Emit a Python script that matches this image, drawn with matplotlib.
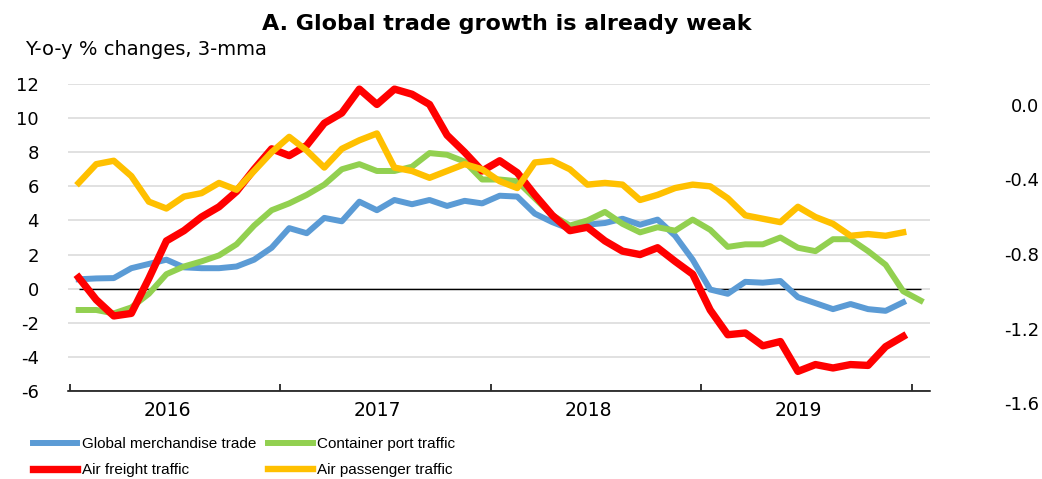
import numpy as np
import matplotlib
matplotlib.use("Agg")
import matplotlib.pyplot as plt
from matplotlib import font_manager
from matplotlib.transforms import ScaledTranslation

# monthly series, Jan 2016 onwards (y-o-y % changes, 3-mma)
years = ["2016", "2017", "2018", "2019"]
merch = [0.55, 0.6, 0.62, 1.2, 1.45, 1.7, 1.25, 1.2, 1.2, 1.3, 1.7, 2.4,
         3.55, 3.25, 4.15, 3.95, 5.1, 4.6, 5.2, 4.95, 5.2, 4.85, 5.15, 5.0,
         5.45, 5.4, 4.4, 3.9, 3.5, 3.75, 3.85, 4.1, 3.75, 4.05, 3.1, 1.7,
         -0.05, -0.3, 0.4, 0.35, 0.45, -0.5, -0.85, -1.2, -0.9, -1.2, -1.3, -0.8]
container = [-1.25, -1.25, -1.45, -1.1, -0.3, 0.85, 1.3, 1.6, 1.95, 2.6, 3.7, 4.6,
             5.0, 5.5, 6.1, 7.0, 7.3, 6.9, 6.9, 7.15, 7.95, 7.85, 7.45, 6.4,
             6.4, 6.3, 5.3, 4.3, 3.7, 4.0, 4.5, 3.8, 3.3, 3.6, 3.4, 4.05,
             3.45, 2.45, 2.6, 2.6, 3.0, 2.4, 2.2, 2.9, 2.9, 2.2, 1.4, -0.15,
             -0.7]
freight = [0.65, -0.65, -1.6, -1.45, 0.6, 2.8, 3.4, 4.2, 4.8, 5.7, 7.0, 8.2,
           7.8, 8.4, 9.7, 10.3, 11.7, 10.8, 11.7, 11.4, 10.8, 9.0, 8.0, 6.9,
           7.5, 6.8, 5.5, 4.3, 3.4, 3.6, 2.8, 2.2, 2.0, 2.4, 1.6, 0.85,
           -1.25, -2.7, -2.6, -3.35, -3.1, -4.85, -4.45, -4.65, -4.45, -4.5, -3.4, -2.8]
passenger = [6.2, 7.3, 7.5, 6.6, 5.1, 4.7, 5.4, 5.6, 6.2, 5.8, 6.9, 8.0,
             8.9, 8.1, 7.1, 8.2, 8.7, 9.1, 7.1, 6.9, 6.5, 6.9, 7.3, 7.0,
             6.3, 5.9, 7.4, 7.5, 7.0, 6.1, 6.2, 6.1, 5.2, 5.5, 5.9, 6.1,
             6.0, 5.3, 4.3, 4.1, 3.9, 4.8, 4.2, 3.8, 3.1, 3.2, 3.1, 3.3]
left_ticks = [-6, -4, -2, 0, 2, 4, 6, 8, 10, 12]
right_ticks = [-1.6, -1.2, -0.8, -0.4, 0.0]

plt.rcParams["axes.unicode_minus"] = False
names = {f.name for f in font_manager.fontManager.ttflist}
if "Liberation Sans Narrow" in names:
    leg_font = {"family": "Liberation Sans Narrow", "size": 12}
else:
    leg_font = {"family": "Liberation Sans", "size": 11}

fig = plt.figure(figsize=(10.42, 4.79), dpi=100)
ax = fig.add_axes([68 / 1042, 88 / 479, 862 / 1042, 307 / 479])

x = np.arange(len(merch)) + 0.5
xg = np.arange(len(container)) + 0.5

ax.hlines(0, xg[0], xg[-1], color="black", lw=1.0, zorder=2)
ax.plot(x, merch, color="#5B9BD5", lw=4.3, label="Global merchandise trade", zorder=3)
ax.plot(xg, container, color="#92D050", lw=4.3, label="Container port traffic", zorder=4)
ax.plot(x, freight, color="#FF0000", lw=5.3, label="Air freight traffic", zorder=5)
ax.plot(x, passenger, color="#FFC000", lw=4.6, label="Air passenger traffic", zorder=6)

ax.set_ylim(-6, 12)
ax.set_xlim(-0.11, 49.03)
ax.set_yticks(left_ticks)
ax.yaxis.grid(True, color="#d9d9d9", lw=1.1)
ax.set_axisbelow(True)
for s in ["left", "right", "top"]:
    ax.spines[s].set_visible(False)
ax.spines["bottom"].set_linewidth(1.1)
ax.tick_params(axis="y", length=0, pad=21, labelsize=13)

ax.set_xticks([0, 12, 24, 36, 48])
ax.set_xticklabels([])
ax.set_xticks([6, 18, 30, 42], minor=True)
ax.set_xticklabels(years, minor=True)
ax.tick_params(axis="x", which="major", direction="in", length=5, width=1.1)
ax.tick_params(axis="x", which="minor", length=0, pad=7, labelsize=13.5)
shift = ScaledTranslation(-8 / 100, 0, fig.dpi_scale_trans)
for lab in ax.xaxis.get_minorticklabels():
    lab.set_transform(lab.get_transform() + shift)

# right-hand scale
ax2 = fig.add_axes([68 / 1042, 76 / 479, 862 / 1042, 298 / 479])
ax2.patch.set_visible(False)
for s in ax2.spines.values():
    s.set_visible(False)
ax2.set_xticks([])
ax2.yaxis.tick_right()
ax2.set_ylim(-1.6, 0.0)
ax2.set_yticks(right_ticks)
ax2.set_yticklabels([f"{v:.1f}" for v in right_ticks])
ax2.tick_params(axis="y", length=0, pad=78.5, labelsize=13)
for lab in ax2.get_yticklabels():
    lab.set_horizontalalignment("right")

fig.text(507 / 1042, 1 - 29.5 / 479, "A. Global trade growth is already weak",
         ha="center", va="baseline", fontsize=16, fontweight="bold")
fig.text(25 / 1042, 1 - 55 / 479, "Y-o-y % changes, 3-mma",
         ha="left", va="baseline", fontsize=14)

# legend: row 1 merchandise / container, row 2 freight / passenger
handles, labels = ax.get_legend_handles_labels()
order = [0, 2, 1, 3]
fig.legend([handles[i] for i in order], [labels[i] for i in order],
           loc="upper left", bbox_to_anchor=(33 / 1042, 1 - 437 / 479),
           ncol=2, frameon=False, prop=leg_font, borderpad=0, borderaxespad=0,
           handlelength=2.9, handletextpad=0.3, columnspacing=0.8,
           labelspacing=0.8)

fig.savefig("out.png", dpi=100)
